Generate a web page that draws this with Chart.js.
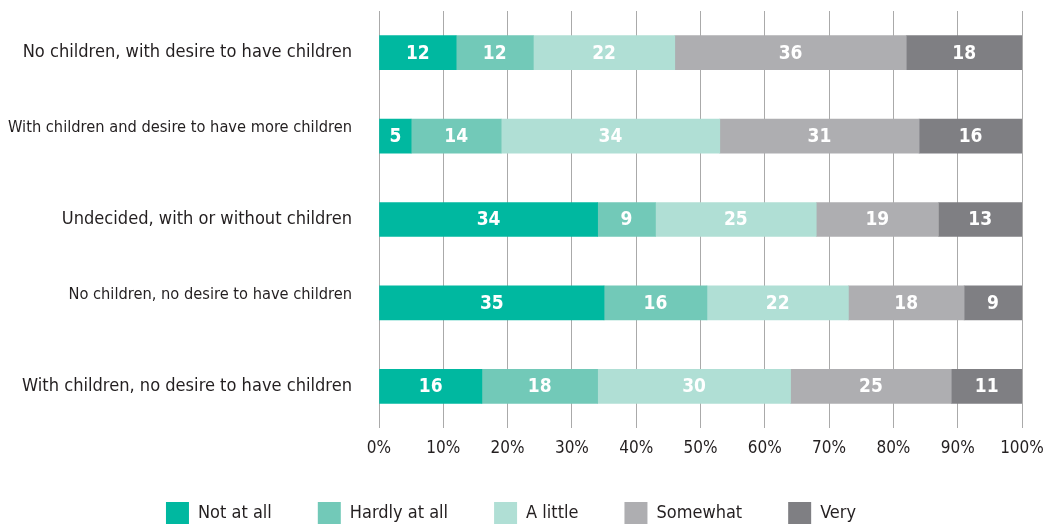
<!DOCTYPE html>
<html>
<head>
<meta charset="utf-8">
<script src="https://cdn.jsdelivr.net/npm/chart.js@4"></script>
<style>
  html, body { margin: 0; padding: 0; background: #fff; }
  #wrap { width: 1049px; height: 526px; }
</style>
</head>
<body>
<div id="wrap"><canvas id="chart"></canvas></div>
<script>
// answers per group, share of respondents in %
var categories = [
  'No children, with desire to have children',
  'With children and desire to have more children',
  'Undecided, with or without children',
  'No children, no desire to have children',
  'With children, no desire to have children'
];
var seriesNames = ['Not at all', 'Hardly at all', 'A little', 'Somewhat', 'Very'];
var notAtAll    = [12, 5, 34, 35, 16];
var hardlyAtAll = [12, 14, 9, 16, 18];
var aLittle     = [22, 34, 25, 22, 30];
var somewhat    = [36, 31, 19, 18, 25];
var very        = [18, 16, 13, 9, 11];
var xTicks = [0, 10, 20, 30, 40, 50, 60, 70, 80, 90, 100];

var FONT = "'DejaVu Sans Condensed', 'Liberation Sans Narrow', sans-serif";
var colors = ['#00b8a0', '#72c9b8', '#b0dfd5', '#aeaeb1', '#7f7f83'];
var smallRows = [1, 3]; // these labels are set smaller and a bit higher

var values = [notAtAll, hardlyAtAll, aLittle, somewhat, very];

// white numbers inside the segments
var barLabels = {
  id: 'barLabels',
  afterDatasetsDraw: function(chart) {
    var ctx = chart.ctx;
    ctx.save();
    ctx.fillStyle = '#fff';
    ctx.font = 'bold 19px ' + FONT;
    ctx.textAlign = 'center';
    ctx.textBaseline = 'middle';
    chart.data.datasets.forEach(function(ds, i) {
      chart.getDatasetMeta(i).data.forEach(function(bar, j) {
        var p = bar.getProps(['x', 'y', 'base'], true);
        ctx.fillText(ds.data[j], (p.x + p.base) / 2, p.y + 1);
      });
    });
    ctx.restore();
  }
};

new Chart(document.getElementById('chart'), {
  type: 'bar',
  data: {
    labels: categories.map(function(c, i) { return smallRows.includes(i) ? [c, ''] : c; }),
    datasets: seriesNames.map(function(name, i) {
      return {
        label: name,
        data: values[i],
        backgroundColor: colors[i],
        borderWidth: 0,
        barThickness: 34
      };
    })
  },
  options: {
    indexAxis: 'y',
    responsive: true,
    maintainAspectRatio: false,
    animation: false,
    layout: { padding: { top: 11, right: 27, bottom: 0, left: 0 } },
    scales: {
      x: {
        stacked: true,
        min: 0,
        max: 100,
        afterBuildTicks: function(scale) {
          scale.ticks = xTicks.map(function(v) { return { value: v }; });
        },
        afterFit: function(scale) {
          scale.height = 28;
          scale.paddingLeft = 0;
          scale.paddingRight = 0;
        },
        grid: { color: '#aaaaaa', lineWidth: 1, drawTicks: false },
        border: { display: false },
        ticks: {
          padding: 10,
          color: '#231f20',
          font: { family: FONT, size: 17 },
          callback: function(v) { return v + '%'; }
        }
      },
      y: {
        stacked: true,
        afterFit: function(scale) {
          scale.width = 379;
          scale.paddingTop = 0;
          scale.paddingBottom = 0;
        },
        grid: { display: false, drawTicks: false },
        border: { display: false },
        ticks: {
          padding: 27,
          color: '#231f20',
          font: function(ctx) {
            if (smallRows.includes(ctx.index)) {
              return { family: FONT, size: 16.3, lineHeight: '17px' };
            }
            return { family: FONT, size: 18.1 };
          }
        }
      }
    },
    plugins: {
      legend: {
        position: 'bottom',
        maxHeight: 70,
        labels: {
          boxWidth: 23,
          boxHeight: 22,
          padding: 46,
          color: '#231f20',
          font: { family: FONT, size: 18 }
        }
      },
      tooltip: { enabled: false }
    }
  },
  plugins: [barLabels]
});
</script>
</body>
</html>
